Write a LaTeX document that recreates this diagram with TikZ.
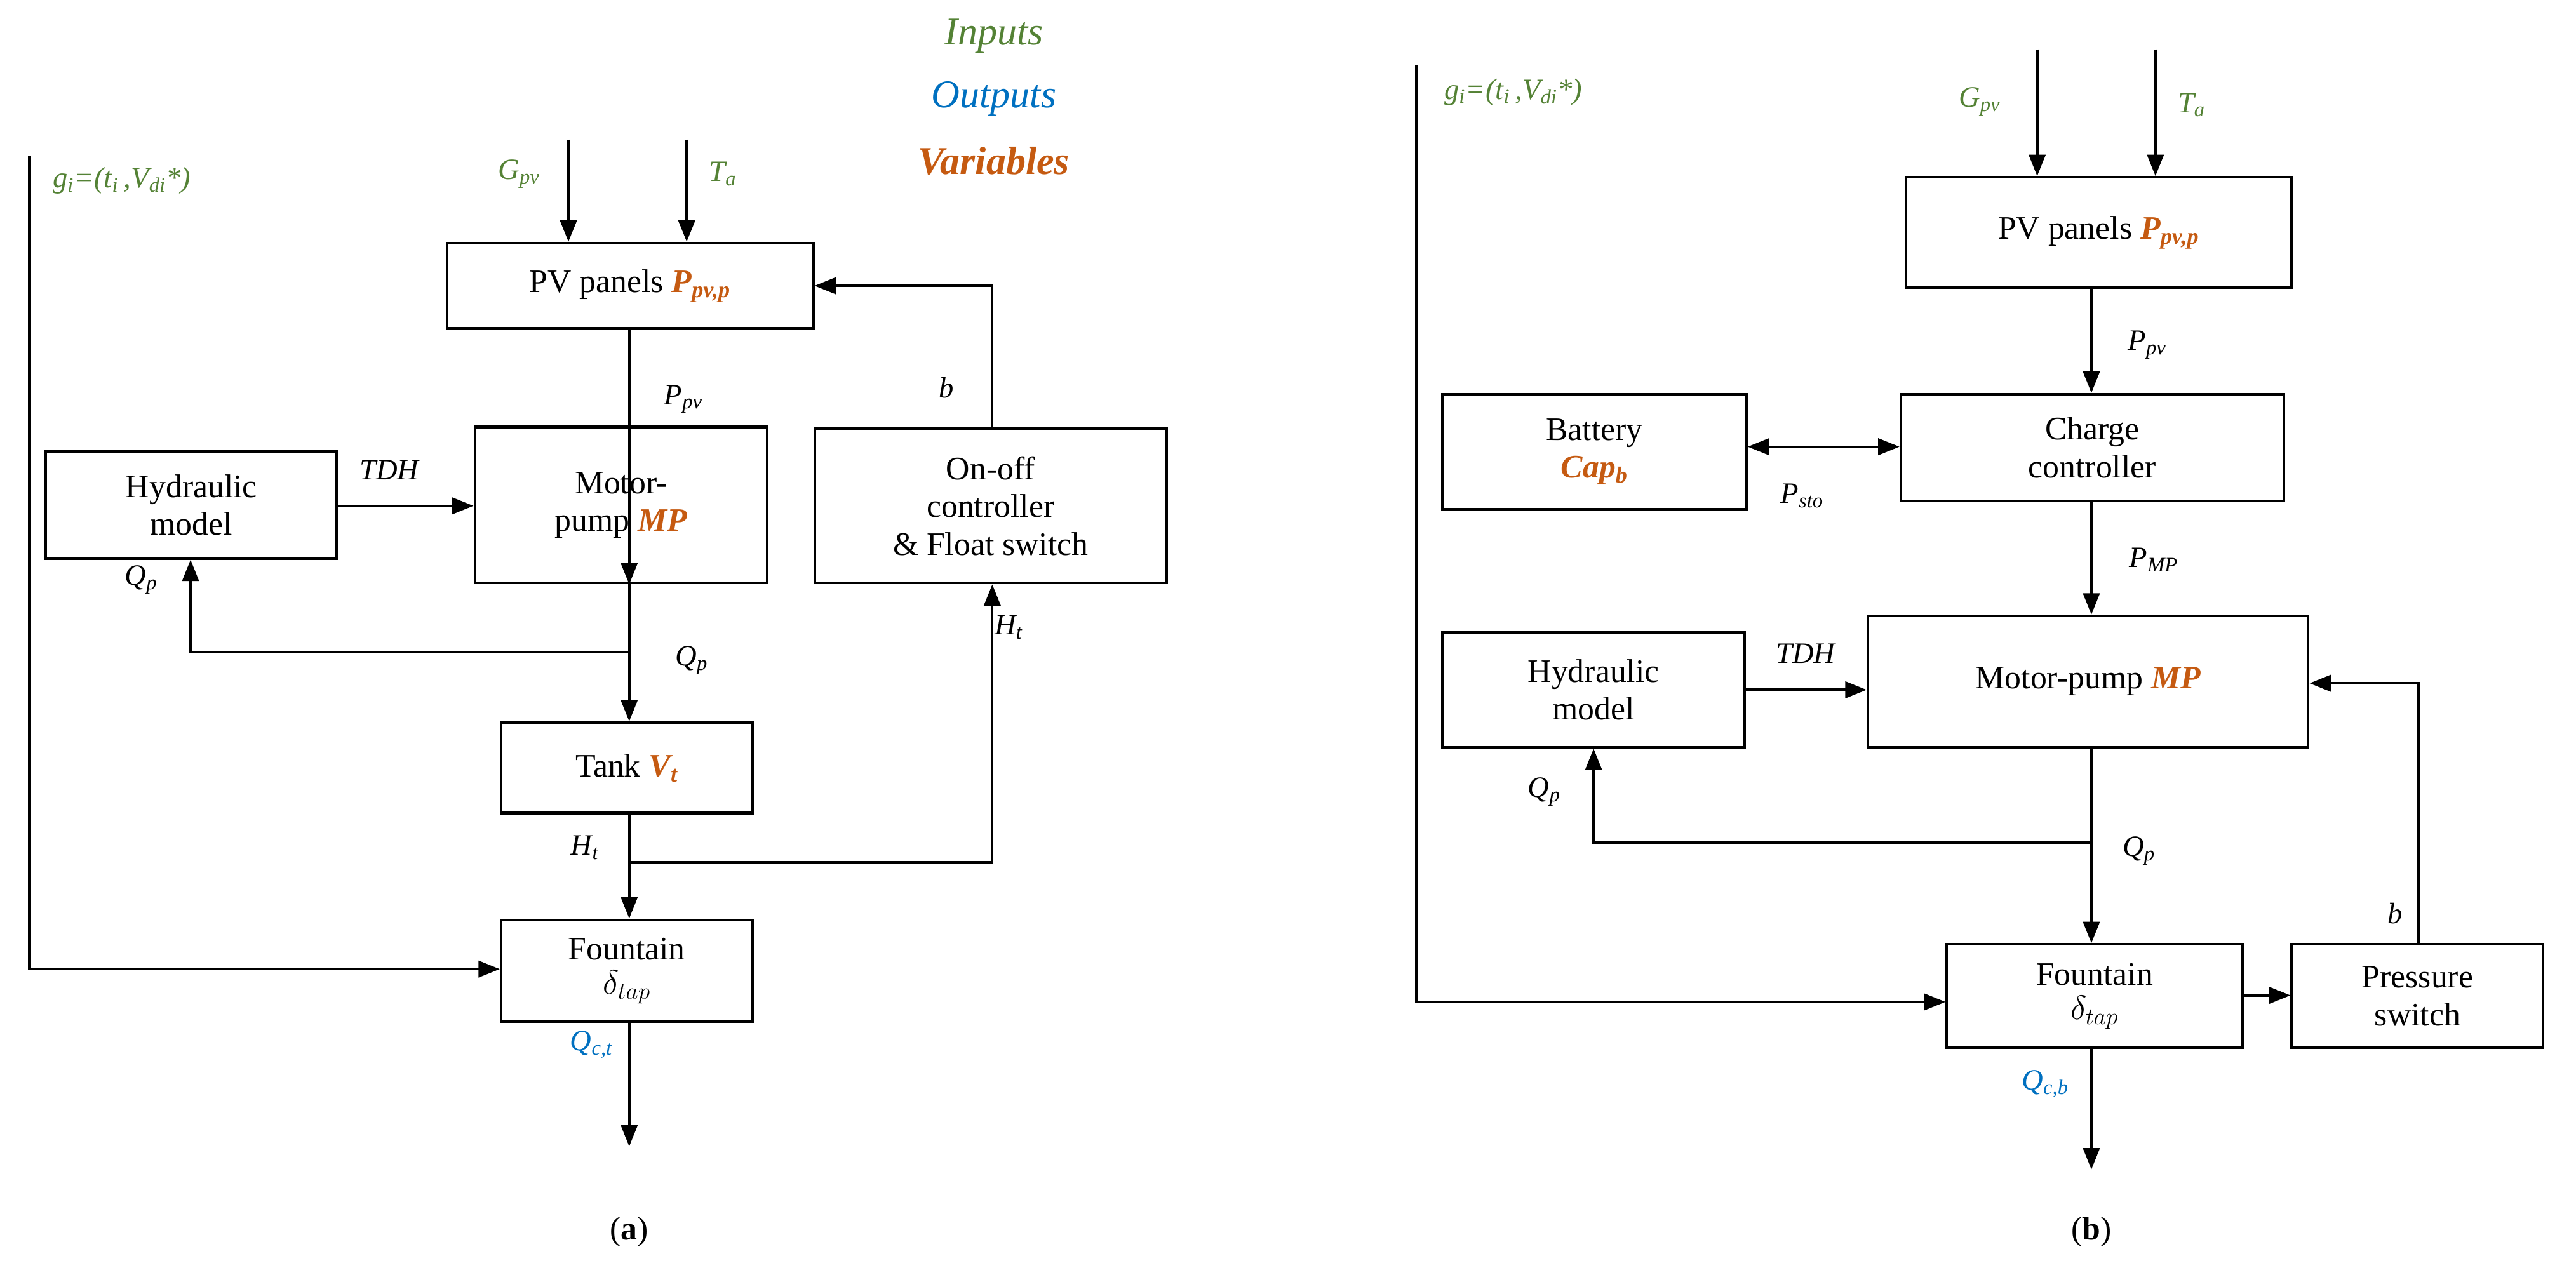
\documentclass[tikz,border=0pt]{standalone}
\usepackage{fontspec}
\setmainfont{Liberation Serif}
\usetikzlibrary{arrows.meta}
\definecolor{ingreen}{RGB}{84,130,53}
\definecolor{outblue}{RGB}{0,112,192}
\definecolor{varorange}{RGB}{197,90,17}
\begin{document}
\begin{tikzpicture}[x=1pt,y=-1pt,line width=1.6pt,
  box/.style={draw,rectangle,align=center,inner sep=2pt,font=\fontsize{20}{23}\selectfont},
  lab/.style={font=\fontsize{18}{20}\selectfont\itshape},
  arr/.style={-{Triangle[length=13pt,width=10pt]}},
  darr/.style={{Triangle[length=13pt,width=10pt]}-{Triangle[length=13pt,width=10pt]}},
  var/.style={text=varorange,font=\bfseries\itshape}]
\useasboundingbox (0,0) rectangle (1568,776);
% legend
\node[lab,text=ingreen,font=\fontsize{24}{26}\selectfont\itshape] (lin) at (605,22) {Inputs};
\node[lab,text=outblue,font=\fontsize{24}{26}\selectfont\itshape] (lout) at (605,60) {Outputs};
\node[lab,text=varorange,font=\fontsize{24}{26}\selectfont\bfseries\itshape] (lvar) at (605,98) {Variables};
% ---------- (a)
\node[box,minimum width=223pt,minimum height=52pt] (pva) at (383.5,174) {PV panels \textcolor{varorange}{\bfseries\itshape P\textsubscript{pv,p}}};
\node[box,minimum width=178pt,minimum height=95pt] (mpa) at (378,307.5) {Motor-\\pump \textcolor{varorange}{\bfseries\itshape MP}};
\node[box,minimum width=177pt,minimum height=65pt] (hya) at (116.5,307.5) {Hydraulic\\model};
\node[box,minimum width=214pt,minimum height=94pt] (ona) at (603,308) {On-off\\controller\\\& Float switch};
\node[box,minimum width=153pt,minimum height=55pt] (tka) at (381.5,467.5) {Tank \textcolor{varorange}{\bfseries\itshape V\textsubscript{t}}};
\node[box,minimum width=153pt,minimum height=62pt] (fna) at (381.5,591) {Fountain\\[-2pt]$\delta_{tap}$};
\coordinate (ga0) at (18,95);
\coordinate (ga1) at (18,590);
\coordinate (gpa) at (346,85);
\coordinate (taa) at (418,85);
\coordinate (outa) at (383,698);
\coordinate (qa1) at (383,397);
\coordinate (qa2) at (116,397);
\coordinate (ha1) at (383,525);
\coordinate (ha2) at (604,525);
\coordinate (ba1) at (604,174);
\draw[arr] (ga0) -- (ga1) -- (fna.west |- ga1);
\draw[arr] (gpa) -- (gpa |- pva.north);
\draw[arr] (taa) -- (taa |- pva.north);
\draw[arr] (pva.south -| qa1) -- (mpa.south -| qa1 |- mpa.north);
\draw[arr] (hya.east |- 0,308) -- (mpa.west |- 0,308);
\draw[arr] (mpa.south -| qa1) -- (tka.north -| qa1);
\draw[arr] (qa1) -- (qa2) -- (hya.south -| qa2);
\draw[arr] (tka.south -| ha1) -- (fna.north -| ha1);
\draw[arr] (ha1) -- (ha2) -- (ona.south -| ha2);
\draw[arr] (ona.north -| ba1) -- (ba1) -- (pva.east |- ba1);
\draw[arr] (fna.south -| outa) -- (outa);
\node[lab,text=ingreen,anchor=west] (gia) at (28,110) {g\textsubscript{i}=(t\textsubscript{i}\,,V\textsubscript{di}*)};
\node[lab,text=ingreen] (gpva) at (316,106) {G\textsubscript{pv}};
\node[lab,text=ingreen] (tala) at (440,106) {T\textsubscript{a}};
\node[lab] (ppva) at (416,243) {P\textsubscript{pv}};
\node[lab] (tdha) at (237,286) {TDH};
\node[lab] (qpa1) at (86,353) {Q\textsubscript{p}};
\node[lab] (qpa2) at (421,402) {Q\textsubscript{p}};
\node[lab] (ba) at (576,236) {b};
\node[lab] (hta1) at (356,516) {H\textsubscript{t}};
\node[lab] (hta2) at (614,382) {H\textsubscript{t}};
\node[lab,text=outblue] (qca) at (360,636) {Q\textsubscript{c,t}};
\node[font=\fontsize{20}{23}\selectfont] (capa) at (383,750) {(\textbf{a})};
% ---------- (b)
\node[box,minimum width=235pt,minimum height=67pt] (pvb) at (1277.5,141.5) {PV panels \textcolor{varorange}{\bfseries\itshape P\textsubscript{pv,p}}};
\node[box,minimum width=233pt,minimum height=65pt] (ccb) at (1273.5,272.5) {Charge\\controller};
\node[box,minimum width=185pt,minimum height=70pt] (btb) at (970.5,275) {Battery\\\textcolor{varorange}{\bfseries\itshape Cap\textsubscript{b}}};
\node[box,minimum width=268pt,minimum height=80pt] (mpb) at (1271,415) {Motor-pump \textcolor{varorange}{\bfseries\itshape MP}};
\node[box,minimum width=184pt,minimum height=70pt] (hyb) at (970,420) {Hydraulic\\model};
\node[box,minimum width=180pt,minimum height=63pt] (fnb) at (1275,606.5) {Fountain\\[-2pt]$\delta_{tap}$};
\node[box,minimum width=153pt,minimum height=63pt] (psb) at (1471.5,606.5) {Pressure\\switch};
\coordinate (gb0) at (862,40);
\coordinate (gb1) at (862,610);
\coordinate (gpb) at (1240,30);
\coordinate (tab) at (1312,30);
\coordinate (xb) at (1273,0);
\coordinate (qb1) at (1273,513);
\coordinate (qb2) at (970,513);
\coordinate (bb1) at (1472,416);
\coordinate (outb) at (1273,712);
\draw[arr] (gb0) -- (gb1) -- (fnb.west |- gb1);
\draw[arr] (gpb) -- (gpb |- pvb.north);
\draw[arr] (tab) -- (tab |- pvb.north);
\draw[arr] (pvb.south -| xb) -- (ccb.north -| xb);
\draw[darr] (btb.east |- 0,272) -- (ccb.west |- 0,272);
\draw[arr] (ccb.south -| xb) -- (mpb.north -| xb);
\draw[arr] (hyb.east |- 0,420) -- (mpb.west |- 0,420);
\draw[arr] (mpb.south -| xb) -- (fnb.north -| xb);
\draw[arr] (qb1) -- (qb2) -- (hyb.south -| qb2);
\draw[arr] (fnb.east |- 0,606) -- (psb.west |- 0,606);
\draw[arr] (psb.north -| bb1) -- (bb1) -- (mpb.east |- bb1);
\draw[arr] (fnb.south -| xb) -- (outb);
\node[lab,text=ingreen,anchor=west] (gib) at (875,56) {g\textsubscript{i}=(t\textsubscript{i}\,,V\textsubscript{di}*)};
\node[lab,text=ingreen] (gpvb) at (1205,62) {G\textsubscript{pv}};
\node[lab,text=ingreen] (talb) at (1334,64) {T\textsubscript{a}};
\node[lab] (ppvb) at (1307,210) {P\textsubscript{pv}};
\node[lab] (pstob) at (1097,302) {P\textsubscript{sto}};
\node[lab] (pmpb) at (1311,341) {P\textsubscript{MP}};
\node[lab] (tdhb) at (1099,398) {TDH};
\node[lab] (qpb1) at (940,482) {Q\textsubscript{p}};
\node[lab] (qpb2) at (1302,518) {Q\textsubscript{p}};
\node[lab] (bb) at (1458,556) {b};
\node[lab,text=outblue] (qcb) at (1245,660) {Q\textsubscript{c,b}};
\node[font=\fontsize{20}{23}\selectfont] (capb) at (1273,750) {(\textbf{b})};
\end{tikzpicture}
\end{document}
